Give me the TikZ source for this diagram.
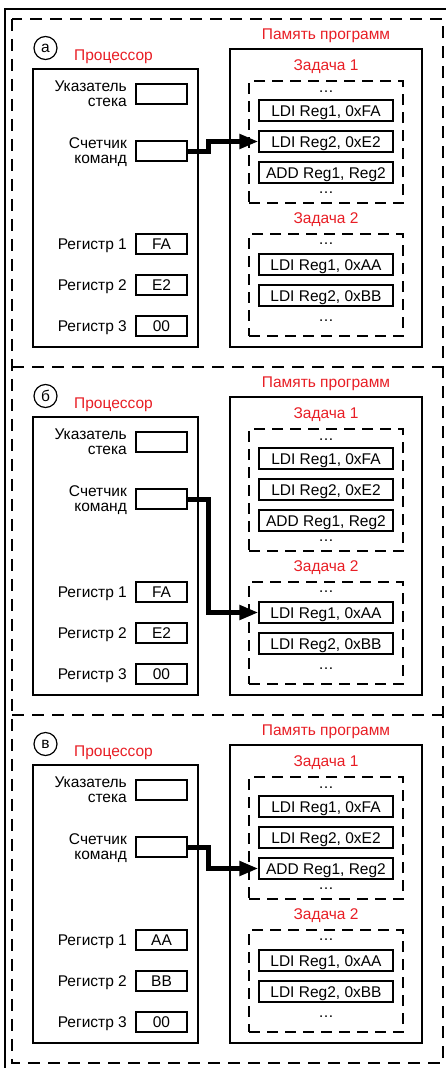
\documentclass[tikz,border=0pt]{standalone}
\usepackage{fontspec}
\setmainfont{Liberation Sans}
\usetikzlibrary{arrows.meta,positioning}
\definecolor{memRed}{RGB}{232,30,37}

\tikzset{
  every node/.style={font=\fontsize{15.5}{15}\selectfont, inner sep=0pt},
  unitbox/.style={draw, line width=1.2pt},
  regbox/.style={draw, line width=1.2pt, minimum width=51pt, minimum height=20pt,
                 text height=11pt, text depth=0pt},
  cmdbox/.style={draw, line width=1.2pt, minimum width=134pt, minimum height=21pt,
                 text height=11pt, text depth=0pt},
  taskframe/.style={draw, line width=1.2pt, dash pattern=on 11pt off 7pt},
  panelframe/.style={line width=1.3pt, dash pattern=on 12pt off 8pt},
  redtxt/.style={text=memRed},
  reglabel/.style={anchor=base east},
  pcarrow/.style={line width=5pt, -{Triangle[length=19pt,width=14pt]}}
}

\begin{document}
\begin{tikzpicture}[x=1pt, y=-1pt]
  \useasboundingbox (0,0) rectangle (445,1068);

  % outer frame and the three panels
  \draw[line width=1.3pt] (5,1080) |- (460,9);
  \draw[panelframe] (12,19) rectangle (443,1063);
  \draw[panelframe] (12,367) -- (443,367);
  \draw[panelframe] (12,715) -- (443,715);

  \foreach \i/\lab/\ra/\rb/\tgt in {0/а/FA/E2/cb, 1/б/FA/E2/da, 2/в/AA/BB/cc} {
  \begin{scope}[yshift=-\i*348pt]
    % processor
    \node[circle, draw, line width=1.2pt, minimum size=23pt] (tag\i) at (45.5,48) {\lab};
    \node[redtxt, anchor=base west] (cpulbl\i) at (74,60) {Процессор};
    \node[unitbox, minimum width=165pt, minimum height=278pt] (cpu\i) at (115.5,208) {};

    \node[regbox] (sp\i) at (161.5,94) {};
    \node[anchor=east, align=right] (splbl\i) at (127,94) {Указатель\\стека};
    \node[regbox] (pc\i) at (161.5,151) {};
    \node[anchor=east, align=right] (pclbl\i) at (127,152) {Счетчик\\команд};

    \node[regbox] (ra\i) at (161.5,244) {\ra};
    \node[reglabel] (ralbl\i) at (127,249.5) {Регистр 1};
    \node[regbox] (rb\i) at (161.5,285) {\rb};
    \node[reglabel] (rblbl\i) at (127,290.5) {Регистр 2};
    \node[regbox] (rc\i) at (161.5,326) {00};
    \node[reglabel] (rclbl\i) at (127,331.5) {Регистр 3};

    % program memory
    \node[redtxt, anchor=base] (memlbl\i) at (326,39) {Память программ};
    \node[unitbox, minimum width=192pt, minimum height=298pt] (mem\i) at (326,198) {};

    \node[redtxt, anchor=base] (task1lbl\i) at (326,70) {Задача 1};
    \node[taskframe, minimum width=154pt, minimum height=122pt] (task1\i) at (326,142) {};
    \node[anchor=base] (dots1\i) at (326,92) {…};
    \node[cmdbox] (ca\i) at (326,110.5) {LDI Reg1, 0xFA};
    \node[cmdbox] (cb\i) at (326,141.5) {LDI Reg2, 0xE2};
    \node[cmdbox] (cc\i) at (326,172.5) {ADD Reg1, Reg2};
    \node[anchor=base] (dots2\i) at (326,193.5) {…};

    \node[redtxt, anchor=base] (task2lbl\i) at (326,223) {Задача 2};
    \node[taskframe, minimum width=154pt, minimum height=102pt] (task2\i) at (326,285) {};
    \node[anchor=base] (dots3\i) at (326,244.5) {…};
    \node[cmdbox] (da\i) at (326,264.5) {LDI Reg1, 0xAA};
    \node[cmdbox] (db\i) at (326,295.5) {LDI Reg2, 0xBB};
    \node[anchor=base] (dots4\i) at (326,321.5) {…};

    % program counter points at the current instruction
    \draw[pcarrow] (pc\i.east) -- ++(21,0) |- (\tgt\i.west);
  \end{scope}
  }
\end{tikzpicture}
\end{document}
